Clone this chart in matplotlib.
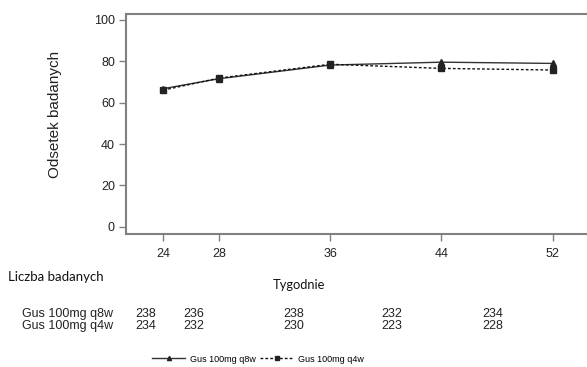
import matplotlib.pyplot as plt

# data
weeks = [24, 28, 36, 44, 52]
q8w = [66.8, 71.6, 78.2, 79.6, 79.0]
q4w = [66.1, 71.9, 78.6, 76.6, 75.8]
n_q8w = [238, 236, 238, 232, 234]
n_q4w = [234, 232, 230, 223, 228]
label_q8w = 'Gus 100mg q8w'
label_q4w = 'Gus 100mg q4w'

plt.rcParams['font.family'] = ['Liberation Sans', 'DejaVu Sans']
grey = '#808080'

fig = plt.figure(figsize=(5.87, 3.67), dpi=100)
ax = fig.add_axes([126/587, 1-234/367, 464/587, 220/367])

ax.plot(weeks, q8w, color='#333333', linewidth=1, linestyle='-', marker='^',
        markersize=5, markerfacecolor='#222222', markeredgecolor='#222222', label=label_q8w)
ax.plot(weeks, q4w, color='#111111', linewidth=1, linestyle=(0, (2, 1.5)), marker='s',
        markersize=4.5, markerfacecolor='#222222', markeredgecolor='#222222', label=label_q4w)

ax.set_xlim(21.31, 54.69)
ax.set_ylim(-3.5, 102.9)
ax.set_xticks(weeks)
ax.set_yticks([0, 20, 40, 60, 80, 100])
ax.tick_params(colors=grey, labelcolor='#222222', labelsize=9, length=5, width=1)
ax.tick_params(axis='x', pad=5)
ax.tick_params(axis='y', pad=3)
for s in ax.spines.values():
    s.set_color(grey)
    s.set_linewidth(1.5)

fig.text(55/587, 1-114/367, 'Odsetek badanych', fontsize=11, rotation=90,
         ha='center', va='center', color='#222222')

# number-at-risk table
fig.text(8/587, 1-277/367, 'Liczba badanych', fontsize=9.5, family=['Lato', 'DejaVu Sans'],
         ha='left', va='center', color='#111111')
fig.text(299/587, 1-285/367, 'Tygodnie', fontsize=9.3, family=['Lato', 'DejaVu Sans'],
         ha='center', va='center', color='#111111')
col_x = [146, 194, 294, 392, 493]
fig.text(22/587, 1-314/367, label_q8w, fontsize=9, ha='left', va='center', color='#222222')
fig.text(22/587, 1-326/367, label_q4w, fontsize=9, ha='left', va='center', color='#222222')
for x, a, b in zip(col_x, n_q8w, n_q4w):
    fig.text(x/587, 1-314/367, str(a), fontsize=9, ha='center', va='center', color='#222222')
    fig.text(x/587, 1-326/367, str(b), fontsize=9, ha='center', va='center', color='#222222')

fig.legend(loc='center', bbox_to_anchor=(258/587, 1-359/367), ncol=2, frameon=False,
           fontsize=6.5, handlelength=3.7, numpoints=1, columnspacing=0.5, handletextpad=0.5,
           markerscale=0.6)

fig.savefig('out.png', dpi=100)
